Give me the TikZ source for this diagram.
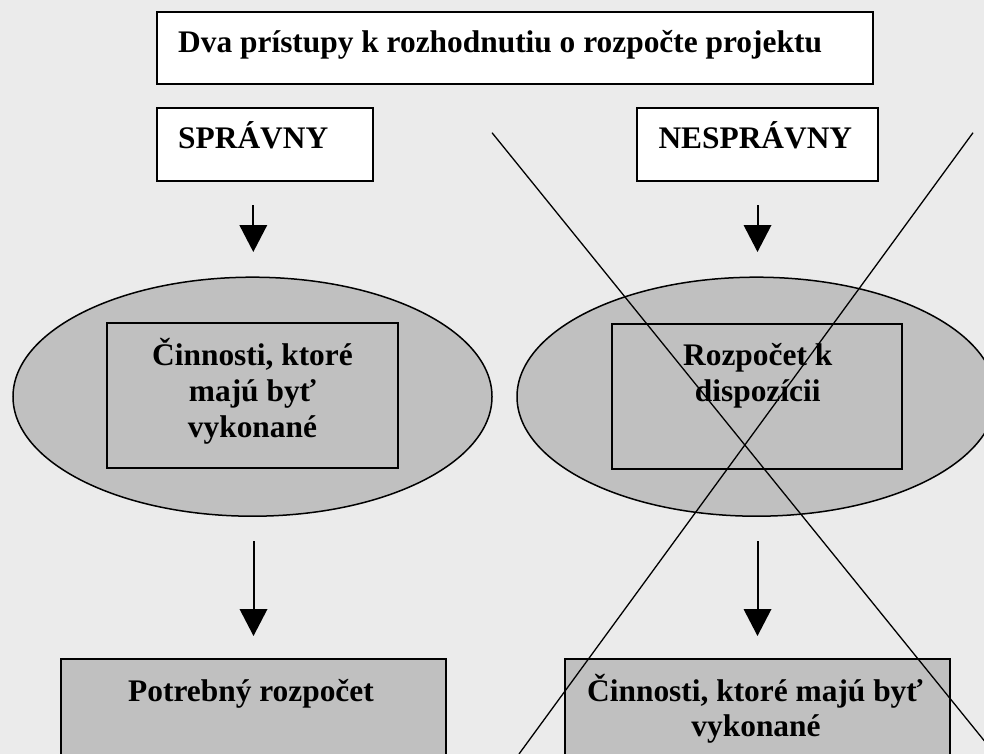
\documentclass[tikz,border=0pt]{standalone}
\usepackage{fontspec}
\setmainfont{Liberation Serif}
\usetikzlibrary{shapes.geometric,arrows.meta}
\definecolor{bgc}{HTML}{EBEBEB}
\definecolor{fillc}{HTML}{C0C0C0}
\begin{document}
\begin{tikzpicture}[x=1pt,y=-1pt,
  font=\fontsize{31.4}{36}\selectfont\bfseries,
  whitebox/.style={draw, line width=2pt, fill=white, rectangle, inner sep=0pt},
  graybox/.style={draw, line width=2pt, fill=fillc, rectangle, inner sep=0pt},
  oval/.style={draw, line width=1.5pt, fill=fillc, ellipse, inner sep=0pt,
    minimum width=479pt, minimum height=239pt},
  txt/.style={inner sep=0pt, anchor=base},
  txtl/.style={inner sep=0pt, anchor=base west},
  arr/.style={line width=2pt, -{Triangle[length=27pt,width=27.5pt]}},
  cross/.style={line width=1.3pt}]
\useasboundingbox[fill=bgc] (0,0) rectangle (984,754);
\begin{scope}
\clip (0,0) rectangle (984,754);
% header boxes
\node[whitebox, minimum width=716pt, minimum height=72pt] (titlebox) at (514.8,48) {};
\node[txtl] (titletext) at (178,53) {Dva prístupy k rozhodnutiu o rozpočte projektu};
\node[whitebox, minimum width=216pt, minimum height=72.7pt] (sprbox) at (264.7,144.3) {};
\node[txtl] (sprtext) at (178,149) {SPRÁVNY};
\node[whitebox, minimum width=241pt, minimum height=72.7pt] (nesprbox) at (757.2,144.3) {};
\node[txtl] (nesprtext) at (658.3,148.5) {NESPRÁVNY};
% ellipses
\node[oval] (ell1) at (252.5,396.7) {};
\node[oval] (ell2) at (756.5,396.7) {};
\node[graybox, minimum width=291pt, minimum height=145pt] (act1) at (252.5,395.8) {};
\node[graybox, minimum width=290pt, minimum height=145pt] (bud1) at (757.3,396) {};
\node[txt] (act1a) at (252.5,365) {Činnosti, ktoré};
\node[txt] (act1b) at (252.5,401) {majú byť};
\node[txt] (act1c) at (252.5,437) {vykonané};
\node[txt] (bud1a) at (757.7,365) {Rozpočet k};
\node[txt] (bud1b) at (757.7,401) {dispozícii};
% bottom boxes
\node[graybox, minimum width=385pt, minimum height=150pt] (bud2) at (253.5,734) {};
\node[graybox, minimum width=385pt, minimum height=150pt] (act2) at (757.5,734) {};
\node[txt] (bud2a) at (251,701.7) {Potrebný rozpočet};
\node[txt] (act2a) at (755,701.7) {Činnosti, ktoré majú byť};
\node[txt] (act2b) at (756,736.7) {vykonané};
% arrows
\coordinate (a1s) at (253.3,205); \coordinate (a1e) at (253.3,252);
\coordinate (a2s) at (757.5,205); \coordinate (a2e) at (757.5,252);
\coordinate (a3s) at (253.5,541); \coordinate (a3e) at (253.5,636);
\coordinate (a4s) at (757.5,541); \coordinate (a4e) at (757.5,636);
\draw[arr] (a1s) -- (a1e);
\draw[arr] (a2s) -- (a2e);
\draw[arr] (a3s) -- (a3e);
\draw[arr] (a4s) -- (a4e);
% cross
\coordinate (x1s) at (492,132.7); \coordinate (x1e) at (995,754);
\coordinate (x2s) at (973,132.7); \coordinate (x2e) at (519,754);
\draw[cross] (x1s) -- (x1e);
\draw[cross] (x2s) -- (x2e);
\end{scope}
\end{tikzpicture}
\end{document}
